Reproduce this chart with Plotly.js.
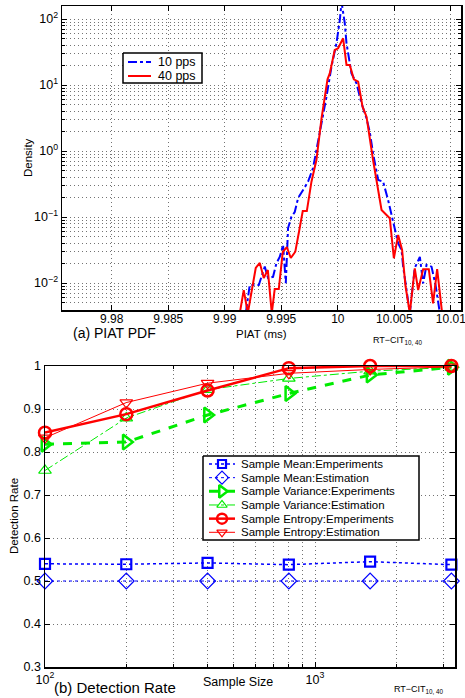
<!DOCTYPE html>
<html>
<head>
<meta charset="utf-8">
<script src="https://cdn.plot.ly/plotly-3.0.1.min.js"></script>
<style>html,body{margin:0;padding:0;background:#fff;}#chart{width:465px;height:698px;}</style>
</head>
<body>
<div id="chart"></div>
<script>
// ---------- (a) PIAT PDF data ----------
var piat10 = [9.99186,9.99221,9.99301,9.99354,9.99383,9.99427,9.99457,9.99487,9.99516,9.99540,9.99560,9.99590,9.99619,9.99649,9.99693,9.99737,9.99781,9.99811,9.99856,9.99900,9.99944,9.99988,10.00018,10.00033,10.00062,10.00077,10.00121,10.00165,10.00210,10.00254,10.00283,10.00312,10.00357,10.00401,10.00445,10.00489,10.00534,10.00564,10.00578,10.00602,10.00637,10.00681,10.00726,10.00755,10.00785,10.00829,10.00865,10.00903];
var dens10 = [0.0035,0.0093,0.0093,0.0177,0.0119,0.0124,0.0199,0.025,0.0377,0.0099,0.068,0.101,0.119,0.194,0.257,0.343,0.552,1.03,2.33,6.65,18.9,42.8,96.6,181,86,42.8,15.0,10.6,5.28,3.13,1.94,0.922,0.364,0.343,0.181,0.090,0.040,0.0316,0.0177,0.0093,0.0035,0.0169,0.0248,0.0099,0.0188,0.0177,0.0093,0.0035];
var piat40 = [9.99133,9.99168,9.99204,9.99274,9.99310,9.99345,9.99381,9.99416,9.99442,9.99478,9.99513,9.99549,9.99584,9.99624,9.99658,9.99690,9.99726,9.99767,9.99811,9.99856,9.99909,9.99929,9.99973,10.00003,10.00047,10.00077,10.00106,10.00142,10.00180,10.00219,10.00254,10.00283,10.00312,10.00342,10.00387,10.00431,10.00460,10.00496,10.00534,10.00569,10.00599,10.00637,10.00681,10.00711,10.00755,10.00805,10.00843,10.00879,10.00923];
var dens40 = [0.0035,0.0078,0.0035,0.0169,0.0201,0.0119,0.0157,0.0035,0.0081,0.0081,0.0295,0.0351,0.0239,0.0298,0.0614,0.123,0.123,0.343,0.731,3.13,12.2,15.0,33.9,36.0,51.0,20.1,20.1,12.2,11.2,4.69,3.31,1.47,0.731,0.364,0.128,0.107,0.0955,0.0237,0.0533,0.0316,0.0090,0.0035,0.0167,0.0078,0.0162,0.0162,0.0049,0.0162,0.0035];
var pdfNames = ['10 pps','40 pps'];
var piatTicks = [9.98,9.985,9.99,9.995,10,10.005,10.01];
var piatTickText = ['9.98','9.985','9.99','9.995','10','10.005','10.01'];
var densTicks = [0.01,0.1,1,10,100];
var densTickText = ['10<sup>\u22122</sup>','10<sup>\u22121</sup>','10<sup>0</sup>','10<sup>1</sup>','10<sup>2</sup>'];

// ---------- (b) Detection rate data ----------
var sampleSize = [100,200,400,800,1600,3200];
var meanExp = [0.540,0.539,0.542,0.538,0.545,0.538];
var meanEst = [0.5,0.5,0.5,0.5,0.5,0.5];
var varExp  = [0.818,0.823,0.886,0.936,0.979,0.997];
var varEst  = [0.757,0.879,0.945,0.971,0.988,0.997];
var entExp  = [0.845,0.888,0.943,0.995,1.0,1.0];
var entEst  = [0.833,0.915,0.960,0.983,0.992,0.998];
var rateNames = ['Sample Mean:Emperiments','Sample Mean:Estimation','Sample Variance:Experiments','Sample Variance:Estimation','Sample Entropy:Emperiments','Sample Entropy:Estimation'];
var sizeTicks = [100,1000];
var sizeTickText = ['10<sup>2</sup>','10<sup>3</sup>'];
var rateTicks = [0.3,0.4,0.5,0.6,0.7,0.8,0.9,1.0];
var rateTickText = ['0.3','0.4','0.5','0.6','0.7','0.8','0.9','1'];

// ---------- styling ----------
var W = 465, H = 698;
var FONT = 'Liberation Sans, Arial, Helvetica, sans-serif';
var BLUE = 'rgb(0,0,255)', RED = 'rgb(255,0,0)', GREEN = 'rgb(0,235,0)';
var GRID = 'rgba(0,0,0,0.55)';
var GDASH = '1px,3px';

function minorLog(lo, hi) {
  var v = [];
  for (var e = lo; e <= hi; e++) for (var m = 2; m <= 9; m++) v.push(m * Math.pow(10, e));
  return v;
}

var styles = [
  {line:{color:BLUE, width:1.5, dash:'dot'}, marker:{symbol:'square-open', size:10, color:BLUE, line:{width:2.2, color:BLUE}}},
  {line:{color:BLUE, width:1, dash:'dot'}, marker:{symbol:'diamond-open', size:12, color:BLUE, line:{width:1.2, color:BLUE}}},
  {line:{color:GREEN, width:3, dash:'dash'}, marker:{symbol:'triangle-right-open', size:13, color:GREEN, line:{width:2.5, color:GREEN}}},
  {line:{color:GREEN, width:1, dash:'dashdot'}, marker:{symbol:'triangle-up-open', size:11, color:GREEN, line:{width:1.2, color:GREEN}}},
  {line:{color:RED, width:2.5, dash:'solid'}, marker:{symbol:'circle-open', size:12, color:RED, line:{width:2.5, color:RED}}},
  {line:{color:RED, width:1, dash:'solid'}, marker:{symbol:'triangle-down-open', size:11, color:RED, line:{width:1.2, color:RED}}}
];
var rateSeries = [meanExp, meanEst, varExp, varEst, entExp, entEst];

var traces = [];
traces.push({x:piat10, y:dens10, mode:'lines', name:pdfNames[0], line:{color:BLUE, width:2, dash:'dashdot'}, xaxis:'x', yaxis:'y', showlegend:false, hoverinfo:'skip'});
traces.push({x:piat40, y:dens40, mode:'lines', name:pdfNames[1], line:{color:RED, width:2}, xaxis:'x', yaxis:'y', showlegend:false, hoverinfo:'skip'});
for (var i = 0; i < rateSeries.length; i++) {
  traces.push({x:sampleSize, y:rateSeries[i], mode:'lines+markers', name:rateNames[i], line:styles[i].line, marker:styles[i].marker, xaxis:'x2', yaxis:'y2', cliponaxis:false, showlegend:false, hoverinfo:'skip'});
}

// ---------- legends drawn on an overlay pixel axis ----------
var annotations = [];
function legendBox(x0, y0, x1, y1) {
  traces.push({x:[x0,x1,x1,x0,x0], y:[y0,y0,y1,y1,y0], mode:'lines', fill:'toself', fillcolor:'#ffffff', line:{color:'#000', width:1.5}, xaxis:'x3', yaxis:'y3', showlegend:false, hoverinfo:'skip'});
}
function legendItem(lx0, lx1, y, tx, text, line, marker, fsize) {
  traces.push({x:[lx0,lx1], y:[y,y], mode:'lines', line:line, xaxis:'x3', yaxis:'y3', showlegend:false, hoverinfo:'skip'});
  if (marker) traces.push({x:[(lx0+lx1)/2], y:[y], mode:'markers', marker:marker, xaxis:'x3', yaxis:'y3', showlegend:false, hoverinfo:'skip', cliponaxis:false});
  annotations.push({xref:'x3', yref:'y3', x:tx, y:y, text:text, showarrow:false, xanchor:'left', yanchor:'middle', font:{family:FONT, size:fsize, color:'#000'}});
}
legendBox(123, 53, 202, 83);
legendItem(128, 151, 62, 156, pdfNames[0], {color:BLUE, width:2, dash:'dashdot'}, null, 12.5);
legendItem(128, 151, 76, 156, pdfNames[1], {color:RED, width:2}, null, 12.5);

legendBox(203, 456, 419, 540);
for (var k = 0; k < 6; k++) {
  var yy = 464 + k * 13.66;
  var mk = JSON.parse(JSON.stringify(styles[k].marker));
  mk.size = Math.max(7, mk.size - 2);
  var ln = JSON.parse(JSON.stringify(styles[k].line));
  legendItem(209, 235, yy, 239, rateNames[k], ln, mk, 11.5);
}

// ---------- text labels ----------
function txt(x, y, text, size, opts) {
  var a = {xref:'x3', yref:'y3', x:x, y:y, text:text, showarrow:false, xanchor:'center', yanchor:'middle', font:{family:FONT, size:size, color:'#000'}};
  if (opts) for (var k in opts) a[k] = opts[k];
  annotations.push(a);
}
txt(114, 333, '(a) PIAT PDF', 14);
txt(261, 334, 'PIAT (ms)', 11.5);
txt(398, 340, 'RT\u2212CIT<sub>10, 40</sub>', 9);
txt(28, 158, 'Density', 11.5, {textangle:-90});
txt(115, 687, '(b) Detection Rate', 15);
txt(238, 682, 'Sample Size', 12.5);
txt(419, 689, 'RT\u2212CIT<sub>10, 40</sub>', 9);
txt(14, 516, 'Detection Rate', 11.5, {textangle:-90});

var axCommon = {
  showline:true, linecolor:'#000', linewidth:1.5, mirror:'ticks',
  ticks:'inside', ticklen:5, tickcolor:'#000', tickwidth:1,
  showgrid:true, gridcolor:GRID, gridwidth:1, griddash:GDASH,
  zeroline:false, fixedrange:true, ticklabeloverflow:'allow',
  tickfont:{family:FONT, size:12.5, color:'#000'}
};
function ax(extra) { var o = JSON.parse(JSON.stringify(axCommon)); for (var k in extra) o[k] = extra[k]; return o; }
var minorCommon = {tickmode:'array', ticks:'inside', ticklen:3, tickcolor:'#000', showgrid:true, gridcolor:GRID, griddash:GDASH, gridwidth:1};
function minor(vals) { var o = JSON.parse(JSON.stringify(minorCommon)); o.tickvals = vals; return o; }

var layout = {
  width:W, height:H,
  margin:{l:0, r:0, t:0, b:0},
  paper_bgcolor:'#ffffff', plot_bgcolor:'rgba(0,0,0,0)',
  showlegend:false,
  font:{family:FONT, color:'#000'},
  xaxis: ax({domain:[62/W, 461/W], range:[9.9756, 10.0109], tickmode:'array', tickvals:piatTicks, ticktext:piatTickText, anchor:'y', ticklabelstandoff:-3, tickfont:{family:FONT, size:12, color:'#000'}}),
  yaxis: ax({domain:[1-310/H, 1-6/H], type:'log', range:[-2.409, 2.197], tickmode:'array', tickvals:densTicks, ticktext:densTickText, anchor:'x', minor:minor(minorLog(-3, 2))}),
  xaxis2: ax({domain:[45/W, 455/W], type:'log', range:[2, Math.log10(3300)], tickmode:'array', tickvals:sizeTicks, ticktext:sizeTickText, anchor:'y2', minor:minor(minorLog(2, 3))}),
  yaxis2: ax({domain:[1-667/H, 1-366/H], range:[0.3, 1.0], tickmode:'array', tickvals:rateTicks, ticktext:rateTickText, anchor:'x2'}),
  xaxis3: {domain:[0,1], range:[0, W], visible:false, fixedrange:true, anchor:'y3'},
  yaxis3: {domain:[0,1], range:[H, 0], visible:false, fixedrange:true, anchor:'x3'},
  annotations: annotations
};

Plotly.newPlot('chart', traces, layout, {displayModeBar:false, staticPlot:true});
</script>
</body>
</html>
